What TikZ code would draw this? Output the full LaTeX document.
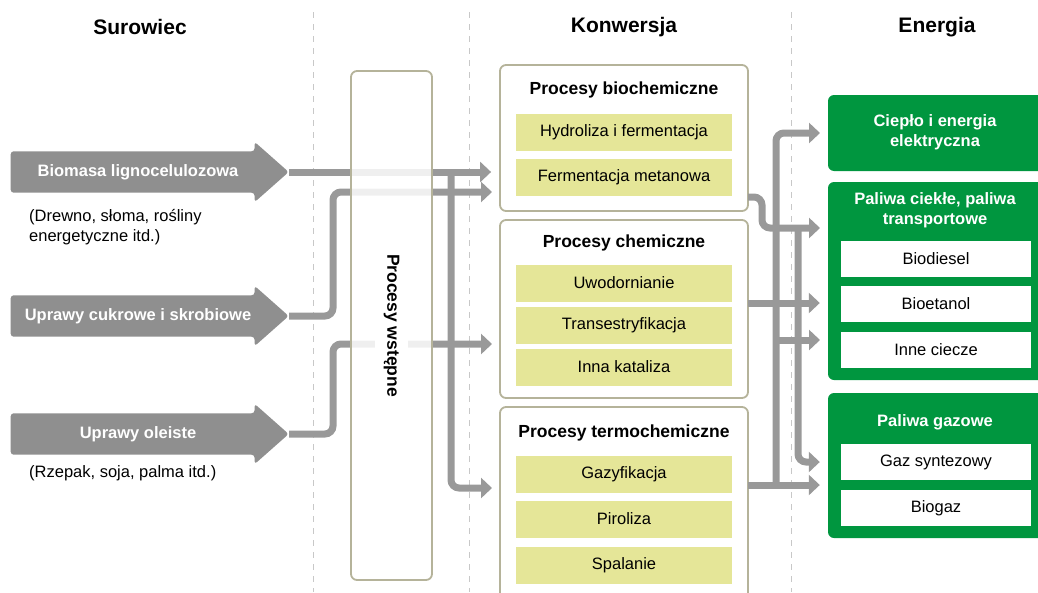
\documentclass[tikz,border=0pt]{standalone}
\usepackage{fontspec}
\setmainfont{Liberation Sans}
\usetikzlibrary{shapes.arrows,arrows.meta}

\definecolor{srcgray}{HTML}{8F8F8F}
\definecolor{flowgray}{HTML}{999999}
\definecolor{sepgray}{HTML}{C8C8C8}
\definecolor{boxline}{HTML}{B5B39A}
\definecolor{itemfill}{HTML}{E5E698}
\definecolor{energygreen}{HTML}{00963F}

\begin{document}
\begin{tikzpicture}[x=1pt,y=-1pt,
	txt/.style={font=\fontsize{16.5}{20}\selectfont},
	head/.style={font=\fontsize{21}{24}\selectfont\bfseries},
	title/.style={font=\fontsize{17.5}{20}\selectfont\bfseries},
	src/.style={single arrow, fill=srcgray, rounded corners=3pt, minimum height=278pt,
		single arrow head extend=9.5pt, single arrow tip angle=83, inner ysep=12.75pt,
		text height=12pt, text depth=3.5pt, text=white, font=\fontsize{16.5}{20}\selectfont\bfseries},
	group/.style={draw=boxline, line width=1.8pt, rounded corners=6pt, fill=white, inner sep=0pt},
	item/.style={txt, fill=itemfill, minimum width=216pt, minimum height=37pt, inner sep=0pt},
	energybox/.style={fill=energygreen, rounded corners=6pt, inner sep=0pt},
	energytitle/.style={font=\fontsize{16.5}{20}\selectfont\bfseries, text=white, align=center},
	energyitem/.style={txt, fill=white, minimum width=190pt, minimum height=36pt, inner sep=0pt},
	flow/.style={draw=flowgray, line width=7pt, rounded corners=8pt,
		-{Triangle[length=11pt,width=20pt]}, shorten >=8pt},
	sep/.style={draw=sepgray, line width=1pt, dash pattern=on 6pt off 6pt}]

	\useasboundingbox (0,0) rectangle (1038,592);
	\clip (0,0) rectangle (1038,592);

	\draw[sep] (313,12) -- (313,592);
	\draw[sep] (469,12) -- (469,592);
	\draw[sep] (791,12) -- (791,592);

	\node[head] (surowiec) at (140,27) {Surowiec};
	\node[head] (konwersja) at (624,27) {Konwersja};
	\node[head] (energia) at (937,27) {Energia};

	\node[src] (biomasa) at (138,172) {Biomasa lignocelulozowa};
	\node[src] (cukrowe) at (138,316) {Uprawy cukrowe i skrobiowe};
	\node[src] (oleiste) at (138,434) {Uprawy oleiste};
	\node[txt, anchor=west, align=left, inner sep=0pt] (biomasaopis) at (29,227) {(Drewno, słoma, rośliny\\energetyczne itd.)};
	\node[txt, anchor=west, inner sep=0pt] (oleisteopis) at (29,473) {(Rzepak, soja, palma itd.)};

	\coordinate (busL) at (333,0);
	\coordinate (busT) at (451,0);
	\coordinate (busR1) at (776,0);
	\coordinate (busR2) at (798,0);
	\coordinate (bioB) at (500,192);
	\coordinate (chemB) at (500,344);
	\coordinate (thermoA) at (500,488);
	\coordinate (bioOut) at (748,197);
	\coordinate (chemOut) at (748,303);
	\coordinate (thermoOut) at (748,485);
	\coordinate (cieploIn) at (828,133);
	\coordinate (ciekleIn) at (828,228);
	\coordinate (ciekleIn3) at (828,340);

	\node[group, minimum width=248pt, minimum height=146pt] (bio) at (624,138) {};
	\node[group, minimum width=248pt, minimum height=178pt] (chem) at (624,309) {};
	\node[group, minimum width=248pt, minimum height=210pt] (thermo) at (624,512) {};

	\node[energybox, minimum width=222pt, minimum height=76pt] (cieplo) at (939,133) {};
	\node[energybox, minimum width=222pt, minimum height=198pt] (ciekle) at (939,281) {};
	\node[energybox, minimum width=222pt, minimum height=145pt] (gazowe) at (939,465.5) {};

	\node[energyitem] (syntezowy) at (936,462) {Gaz syntezowy};

	\draw[flow] (biomasa.tip) -- (biomasa.tip -| bio.west);
	\draw[flow] (biomasa.tip -| busT) |- (thermoA);
	\draw[flow] (cukrowe.tip) -| (busL |- bioB) -- (bioB);
	\draw[flow] (oleiste.tip) -| (busL |- chemB) -- (chemB);

	\draw[flow] (bioOut) -- ++(14,0) |- (ciekleIn);
	\draw[flow] (ciekleIn -| busR2) |- (syntezowy.west -| gazowe.west);
	\draw[flow] (thermoOut) -- (thermoOut -| gazowe.west);
	\draw[flow] (thermoOut -| busR1) |- (cieploIn);
	\draw[flow] (chemOut) -- (chemOut -| ciekle.west);
	\draw[flow] (ciekleIn3 -| busR1) -- (ciekleIn3);

	\node[group, minimum width=81pt, minimum height=509pt, fill opacity=0.85] (wstepne) at (391.5,325.5) {};
	\node[title, rotate=-90, fill=white, inner sep=9pt] (wstepneT) at (wstepne.center) {Procesy wstępne};

	\node[title] (bioT) at (624,90) {Procesy biochemiczne};
	\node[item] (hydroliza) at (624,132) {Hydroliza i fermentacja};
	\node[item] (metanowa) at (624,177) {Fermentacja metanowa};

	\node[title] (chemT) at (624,243) {Procesy chemiczne};
	\node[item] (uwodornianie) at (624,283) {Uwodornianie};
	\node[item] (transestr) at (624,325) {Transestryfikacja};
	\node[item] (kataliza) at (624,367) {Inna kataliza};

	\node[title] (thermoT) at (624,433) {Procesy termochemiczne};
	\node[item] (gazyfikacja) at (624,474) {Gazyfikacja};
	\node[item] (piroliza) at (624,519) {Piroliza};
	\node[item] (spalanie) at (624,565) {Spalanie};

	\node[energytitle] (cieploT) at (935,132) {Ciepło i energia\\elektryczna};
	\node[energytitle] (ciekleT) at (935,210) {Paliwa ciekłe, paliwa\\transportowe};
	\node[energyitem] (biodiesel) at (936,259) {Biodiesel};
	\node[energyitem] (bioetanol) at (936,304) {Bioetanol};
	\node[energyitem] (ciecze) at (936,350) {Inne ciecze};
	\node[energytitle] (gazoweT) at (935,422) {Paliwa gazowe};
	\node[energyitem] (biogaz) at (936,508) {Biogaz};
\end{tikzpicture}
\end{document}
